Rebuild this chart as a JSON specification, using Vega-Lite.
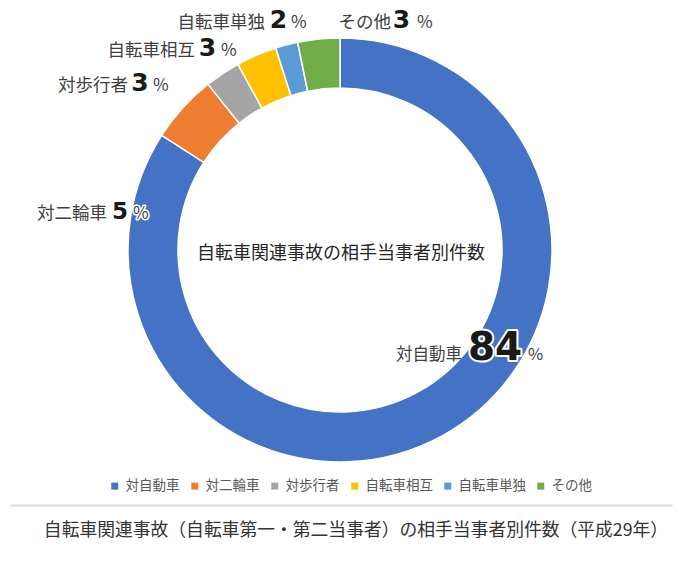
{
  "$schema": "https://vega.github.io/schema/vega-lite/v6.json",
  "width": 680,
  "height": 500,
  "autosize": {"type": "none"},
  "padding": {"left": 0, "top": 0, "right": 0, "bottom": 67},
  "background": "white",
  "config": {"view": {"stroke": null}, "font": "Noto Sans CJK JP"},
  "title": {
    "text": "自転車関連事故（自転車第一・第二当事者）の相手当事者別件数（平成29年）",
    "orient": "bottom",
    "anchor": "middle",
    "offset": -30,
    "dx": 16,
    "fontSize": 17.8,
    "fontWeight": "normal",
    "font": "Noto Sans CJK JP",
    "color": "#333333"
  },
  "datasets": {
    "accidents": [
      {"name": "対自動車", "value": 84.1, "rank": 1},
      {"name": "対二輪車", "value": 5.2, "rank": 2},
      {"name": "対歩行者", "value": 2.7, "rank": 3},
      {"name": "自転車相互", "value": 3.1, "rank": 4},
      {"name": "自転車単独", "value": 1.7, "rank": 5},
      {"name": "その他", "value": 3.2, "rank": 6}
    ],
    "center": [{"t": "自転車関連事故の相手当事者別件数"}]
  },
  "layer": [
    {
      "data": {"name": "center"},
      "mark": {"type": "text", "fontSize": 18, "font": "Noto Sans CJK JP", "fill": "#262626", "baseline": "middle", "align": "center", "dy": 4},
      "encoding": {
        "x": {"datum": 0.5, "type": "quantitative", "scale": {"domain": [0, 1], "range": [10, 672], "nice": false, "zero": false},
          "axis": {"orient": "bottom", "domain": true, "domainColor": "#d9d9d9", "domainWidth": 2, "ticks": false, "labels": false, "grid": false, "title": null, "offset": 5}},
        "y": {"datum": 0.5, "type": "quantitative", "scale": {"domain": [0, 1], "nice": false, "zero": false}, "axis": null},
        "text": {"field": "t"}
      }
    },
    {
      "data": {"name": "accidents"},
      "encoding": {
        "theta": {"field": "value", "type": "quantitative", "stack": true},
        "order": {"field": "rank", "type": "quantitative"}
      },
      "layer": [
        {
          "mark": {"type": "arc", "outerRadius": 212, "innerRadius": 162, "stroke": "white", "strokeWidth": 1.5},
          "encoding": {
            "color": {
              "field": "name", "type": "nominal",
              "scale": {"domain": ["対自動車", "対二輪車", "対歩行者", "自転車相互", "自転車単独", "その他"],
                        "range": ["#4472C4", "#ED7D31", "#A5A5A5", "#FFC000", "#5B9BD5", "#70AD47"]},
              "legend": {"orient": "none", "legendX": 108, "legendY": 479, "direction": "horizontal", "title": null,
                         "symbolType": "square", "symbolSize": 49, "symbolStrokeWidth": 0, "labelFontSize": 13.5,
                         "labelFont": "Noto Sans CJK JP", "labelColor": "#595959", "labelOffset": 4, "columnPadding": 8}
            }
          }
        },

        {"mark": {"type": "text", "radius": 212, "align": "right", "baseline": "alphabetic", "dx": 20.5, "dy": -76, "fontSize": 16.5, "fill": "#404040"},
         "encoding": {"text": {"condition": {"test": "datum.name === '対自動車'", "field": "name"}, "value": ""}}},
        {"mark": {"type": "text", "radius": 212, "align": "center", "baseline": "alphabetic", "dx": 53.5, "dy": -76, "fontSize": 39, "font": "DejaVu Sans", "fontWeight": "bold", "fill": "white", "stroke": "white", "strokeWidth": 4, "strokeJoin": "round"},
         "encoding": {"text": {"condition": {"test": "datum.name === '対自動車'", "field": "value", "format": ".0f"}, "value": ""}}},
        {"mark": {"type": "text", "radius": 212, "align": "center", "baseline": "alphabetic", "dx": 53.5, "dy": -76, "fontSize": 39, "font": "DejaVu Sans", "fontWeight": "bold", "fill": "#1a1a1a"},
         "encoding": {"text": {"condition": {"test": "datum.name === '対自動車'", "field": "value", "format": ".0f"}, "value": ""}}},
        {"mark": {"type": "text", "radius": 212, "align": "left", "baseline": "alphabetic", "dx": 86.5, "dy": -76, "fontSize": 16.5, "fill": "#404040"},
         "encoding": {"text": {"condition": {"test": "datum.name === '対自動車'", "value": "%"}, "value": ""}}},

        {"mark": {"type": "text", "radius": 212, "align": "right", "baseline": "alphabetic", "dx": -75.7, "dy": 111, "fontSize": 17.5, "fill": "#404040"},
         "encoding": {"text": {"condition": {"test": "datum.name === '対二輪車'", "field": "name"}, "value": ""}}},
        {"mark": {"type": "text", "radius": 212, "align": "center", "baseline": "alphabetic", "dx": -62.7, "dy": 111, "fontSize": 23, "font": "DejaVu Sans", "fontWeight": "bold", "fill": "#1a1a1a"},
         "encoding": {"text": {"condition": {"test": "datum.name === '対二輪車'", "field": "value", "format": ".0f"}, "value": ""}}},
        {"mark": {"type": "text", "radius": 212, "align": "left", "baseline": "alphabetic", "dx": -49.7, "dy": 111, "fontSize": 17, "fill": "white", "stroke": "white", "strokeWidth": 3, "strokeJoin": "round"},
         "encoding": {"text": {"condition": {"test": "datum.name === '対二輪車'", "value": "%"}, "value": ""}}},
        {"mark": {"type": "text", "radius": 212, "align": "left", "baseline": "alphabetic", "dx": -49.7, "dy": 111, "fontSize": 17, "fill": "#404040"},
         "encoding": {"text": {"condition": {"test": "datum.name === '対二輪車'", "value": "%"}, "value": ""}}},

        {"mark": {"type": "text", "radius": 212, "align": "right", "baseline": "alphabetic", "dx": -94.5, "dy": 17.9, "fontSize": 17.5, "fill": "#404040"},
         "encoding": {"text": {"condition": {"test": "datum.name === '対歩行者'", "field": "name"}, "value": ""}}},
        {"mark": {"type": "text", "radius": 212, "align": "center", "baseline": "alphabetic", "dx": -82.5, "dy": 17.9, "fontSize": 25, "font": "DejaVu Sans", "fontWeight": "bold", "fill": "#1a1a1a"},
         "encoding": {"text": {"condition": {"test": "datum.name === '対歩行者'", "field": "value", "format": ".0f"}, "value": ""}}},
        {"mark": {"type": "text", "radius": 212, "align": "left", "baseline": "alphabetic", "dx": -69.5, "dy": 17.9, "fontSize": 17, "fill": "#404040"},
         "encoding": {"text": {"condition": {"test": "datum.name === '対歩行者'", "value": "%"}, "value": ""}}},

        {"mark": {"type": "text", "radius": 212, "align": "right", "baseline": "alphabetic", "dx": -61.4, "dy": 0.8, "fontSize": 17.5, "fill": "#404040"},
         "encoding": {"text": {"condition": {"test": "datum.name === '自転車相互'", "field": "name"}, "value": ""}}},
        {"mark": {"type": "text", "radius": 212, "align": "center", "baseline": "alphabetic", "dx": -48.9, "dy": 0.8, "fontSize": 25, "font": "DejaVu Sans", "fontWeight": "bold", "fill": "#1a1a1a"},
         "encoding": {"text": {"condition": {"test": "datum.name === '自転車相互'", "field": "value", "format": ".0f"}, "value": ""}}},
        {"mark": {"type": "text", "radius": 212, "align": "left", "baseline": "alphabetic", "dx": -35.4, "dy": 0.8, "fontSize": 17, "fill": "#404040"},
         "encoding": {"text": {"condition": {"test": "datum.name === '自転車相互'", "value": "%"}, "value": ""}}},

        {"mark": {"type": "text", "radius": 212, "align": "right", "baseline": "alphabetic", "dx": -21.6, "dy": -16.6, "fontSize": 17.5, "fill": "#404040"},
         "encoding": {"text": {"condition": {"test": "datum.name === '自転車単独'", "field": "name"}, "value": ""}}},
        {"mark": {"type": "text", "radius": 212, "align": "center", "baseline": "alphabetic", "dx": -8.1, "dy": -16.6, "fontSize": 25, "font": "DejaVu Sans", "fontWeight": "bold", "fill": "#1a1a1a"},
         "encoding": {"text": {"condition": {"test": "datum.name === '自転車単独'", "field": "value", "format": ".0f"}, "value": ""}}},
        {"mark": {"type": "text", "radius": 212, "align": "left", "baseline": "alphabetic", "dx": 4.4, "dy": -16.6, "fontSize": 17, "fill": "#404040"},
         "encoding": {"text": {"condition": {"test": "datum.name === '自転車単独'", "value": "%"}, "value": ""}}},

        {"mark": {"type": "text", "radius": 212, "align": "right", "baseline": "alphabetic", "dx": 72.3, "dy": -10.8, "fontSize": 17.5, "fill": "#404040"},
         "encoding": {"text": {"condition": {"test": "datum.name === 'その他'", "field": "name"}, "value": ""}}},
        {"mark": {"type": "text", "radius": 212, "align": "center", "baseline": "alphabetic", "dx": 82.8, "dy": -10.8, "fontSize": 25, "font": "DejaVu Sans", "fontWeight": "bold", "fill": "#1a1a1a"},
         "encoding": {"text": {"condition": {"test": "datum.name === 'その他'", "field": "value", "format": ".0f"}, "value": ""}}},
        {"mark": {"type": "text", "radius": 212, "align": "left", "baseline": "alphabetic", "dx": 98.3, "dy": -10.8, "fontSize": 17, "fill": "#404040"},
         "encoding": {"text": {"condition": {"test": "datum.name === 'その他'", "value": "%"}, "value": ""}}}
      ]
    }
  ]
}
